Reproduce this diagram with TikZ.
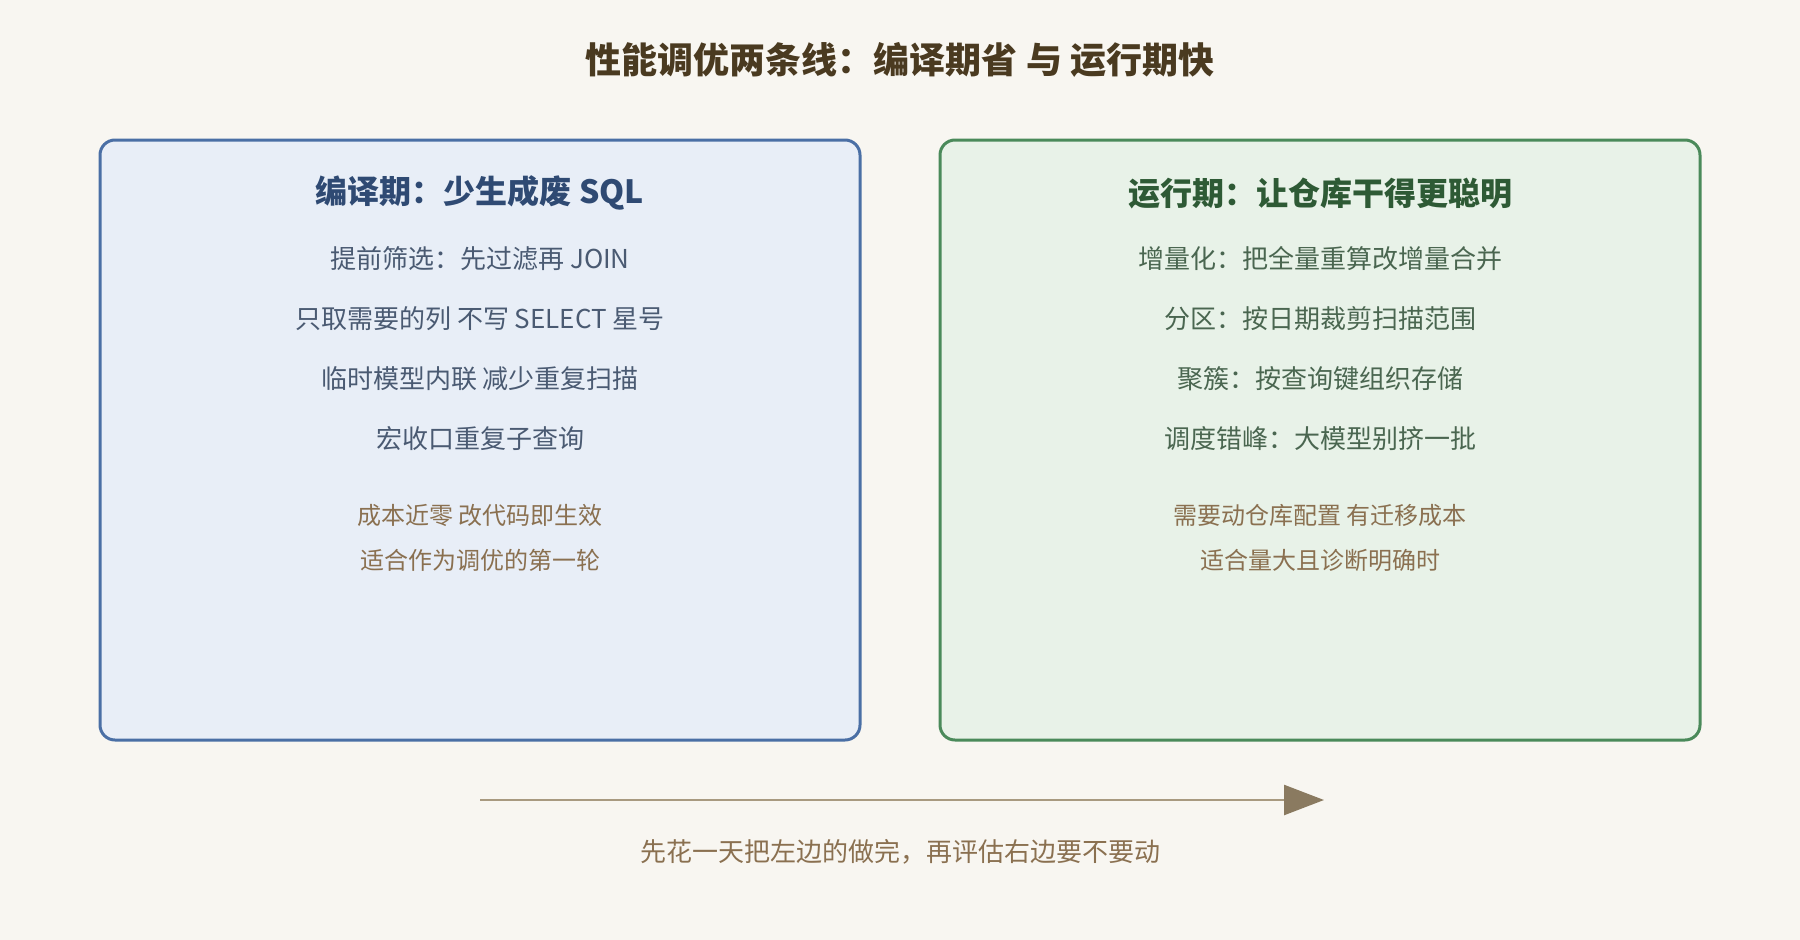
\documentclass[tikz,border=0pt]{standalone}
\usepackage{fontspec}
\setmainfont{Noto Sans CJK SC}
\usetikzlibrary{positioning, arrows.meta}
\definecolor{bgpaper}{HTML}{F8F6F1}
\definecolor{titlebrown}{HTML}{4A3A20}
\definecolor{leftfill}{HTML}{E8EEF7}
\definecolor{leftline}{HTML}{4A6FA5}
\definecolor{lefthead}{HTML}{2F4A73}
\definecolor{lefttext}{HTML}{4A5A72}
\definecolor{rightfill}{HTML}{E8F2E8}
\definecolor{rightline}{HTML}{4A8A5A}
\definecolor{righthead}{HTML}{2E5A35}
\definecolor{righttext}{HTML}{4A6650}
\definecolor{notebrown}{HTML}{8A7050}
\definecolor{arrowline}{HTML}{A89A80}
\definecolor{arrowhead}{HTML}{8A7A60}

\begin{document}
\begin{tikzpicture}[
        x=1pt, y=-1pt,
        node distance=60pt,
        % --- stiluri ---
        panel/.style={
                rounded corners=15pt,
                line width=3pt
            },
        heading/.style={
                font=\bfseries\fontsize{32}{38}\selectfont,
                anchor=center
            },
        item/.style={
                font=\fontsize{26}{30}\selectfont,
                anchor=center,
                inner sep=0pt
            },
        note/.style={
                font=\fontsize{24}{45}\selectfont,
                color=notebrown,
                align=center,
                inner sep=0pt
            }
    ]

    % fundal
    \fill[bgpaper] (0,0) rectangle (1800,940);

    % titlu
    \node[font=\bfseries\fontsize{36}{42}\selectfont, color=titlebrown] (title) at (900,60)
    {性能调优两条线：编译期省 与 运行期快};

    % 1. Panourile
    \draw[panel, draw=leftline, fill=leftfill] (100,140) rectangle (860,740);
    \draw[panel, draw=rightline, fill=rightfill] (940,140) rectangle (1700,740);

    % 2. Coloana stanga
    \node[heading, color=lefthead] (lhead) at (480,193) {编译期：少生成废 SQL};
    \node[item, color=lefttext] (l1) at (480,259) {提前筛选：先过滤再 JOIN};
    \node[item, color=lefttext, below=of l1.center, anchor=center] (l2) {只取需要的列 不写 SELECT 星号};
    \node[item, color=lefttext, below=of l2.center, anchor=center] (l3) {临时模型内联 减少重复扫描};
    \node[item, color=lefttext, below=of l3.center, anchor=center] (l4) {宏收口重复子查询};
    \node[note] (lnote) at (480,538) {成本近零 改代码即生效\\适合作为调优的第一轮};

    % 3. Coloana dreapta
    \node[heading, color=righthead] (rhead) at (1320,193) {运行期：让仓库干得更聪明};
    \node[item, color=righttext] (r1) at (1320,259) {增量化：把全量重算改增量合并};
    \node[item, color=righttext, below=of r1.center, anchor=center] (r2) {分区：按日期裁剪扫描范围};
    \node[item, color=righttext, below=of r2.center, anchor=center] (r3) {聚簇：按查询键组织存储};
    \node[item, color=righttext, below=of r3.center, anchor=center] (r4) {调度错峰：大模型别挤一批};
    \node[note] (rnote) at (1320,538) {需要动仓库配置 有迁移成本\\适合量大且诊断明确时};

    % 4. Sageata de jos
    \coordinate (astart) at (480,800);
    \coordinate (aend) at (1324,800);
    \draw[line width=2.5pt, color=arrowline,
        -{Triangle[length=40pt, width=30pt, color=arrowhead]}] (astart) -- (aend);
    \node[font=\fontsize{26}{30}\selectfont, color=notebrown] (caption) at (900,852)
    {先花一天把左边的做完，再评估右边要不要动};

\end{tikzpicture}
\end{document}
